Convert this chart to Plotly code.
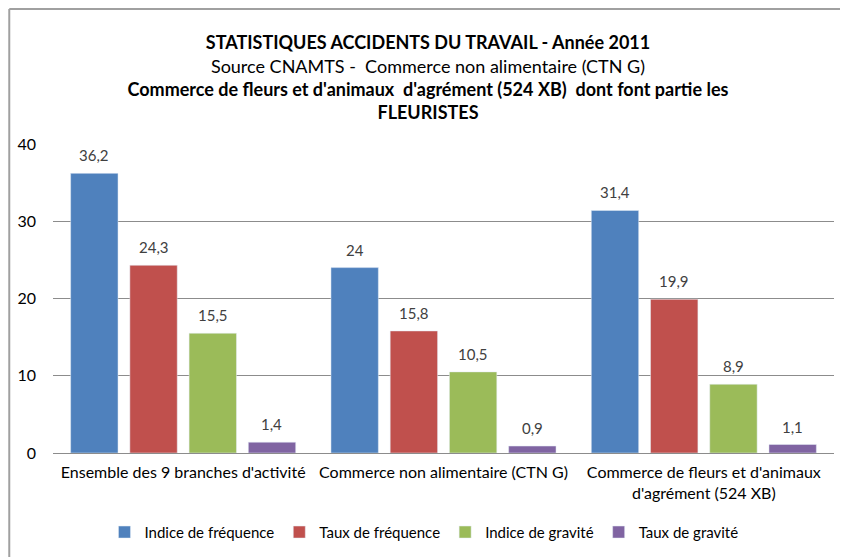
import plotly.graph_objects as go

categories = ["Ensemble des 9 branches d'activité",
              "Commerce non alimentaire (CTN G)",
              "Commerce de fleurs et d'animaux<br>d'agrément (524 XB)"]
series_names = ["Indice de fréquence", "Taux de fréquence", "Indice de gravité", "Taux de gravité"]
indice_frequence = [36.2, 24.0, 31.4]
taux_frequence = [24.3, 15.8, 19.9]
indice_gravite = [15.5, 10.5, 8.9]
taux_gravite = [1.4, 0.9, 1.1]
colors = ["#4F81BD", "#C0504D", "#9BBB59", "#8064A2"]
y_ticks = [0, 10, 20, 30, 40]

FONT = "Lato, Liberation Sans, Arial, sans-serif"

def fmt(v):
    s = ("%.1f" % v)
    if s.endswith(".0"):
        s = s[:-2]
    return s.replace(".", ",")

all_series = [indice_frequence, taux_frequence, indice_gravite, taux_gravite]

fig = go.Figure()
for name, vals, col in zip(series_names, all_series, colors):
    fig.add_trace(go.Bar(name=name, x=categories, y=vals, marker_color=col))

# value labels above bars (offset per series within the group)
SLOT = 59.2
annotations = []
for j, vals in enumerate(all_series):
    for cat, v in zip(categories, vals):
        annotations.append(dict(
            x=cat, y=v, xref="x", yref="y", text=fmt(v), showarrow=False,
            xshift=(j - 1.5) * SLOT, yshift=7, yanchor="bottom",
            font=dict(size=15, color="#404040", family=FONT),
        ))

title_text = ("<b>STATISTIQUES ACCIDENTS DU TRAVAIL - Année 2011</b><br>"
              "Source CNAMTS -  Commerce non alimentaire (CTN G)<br>"
              "<b>Commerce de fleurs et d'animaux  d'agrément (524 XB)  dont font partie les</b><br>"
              "<b>FLEURISTES</b>")

fig.update_layout(
    width=840, height=549,
    paper_bgcolor="white", plot_bgcolor="white",
    margin=dict(l=45, r=14, t=136, b=104, autoexpand=False),
    barmode="group", bargap=0.09, bargroupgap=0.2,
    font=dict(family=FONT, color="#000000"),
    title=dict(text=title_text, x=0.5, xanchor="center", y=0.925, yanchor="top",
               font=dict(size=18, family=FONT, color="#000000")),
    showlegend=True,
    legend=dict(orientation="h", x=0.475, xanchor="center",
                yref="container", y=0.045, yanchor="middle",
                font=dict(size=15, family=FONT, color="#000000"),
                itemwidth=30, traceorder="normal"),
    annotations=annotations,
    shapes=[
        dict(type="line", xref="paper", yref="paper", x0=-0.056, x1=1.02, y0=1.437, y1=1.437,
             line=dict(color="#a0a0a0", width=2)),
        dict(type="line", xref="paper", yref="paper", x0=-0.056, x1=-0.056, y0=1.437, y1=-0.40,
             line=dict(color="#a0a0a0", width=2)),
    ],
)
fig.update_yaxes(range=[0, 40], tickvals=y_ticks, showgrid=True, gridcolor="#8c8c8c",
                 gridwidth=1, zeroline=False, showline=False, ticks="",
                 tickfont=dict(size=16, family=FONT, color="#000000"), ticklabelstandoff=16)
fig.update_xaxes(showline=True, linecolor="#8c8c8c", linewidth=1, ticks="",
                 tickfont=dict(size=16, family=FONT, color="#000000"), ticklabelstandoff=5)

fig.write_html("out.html")
